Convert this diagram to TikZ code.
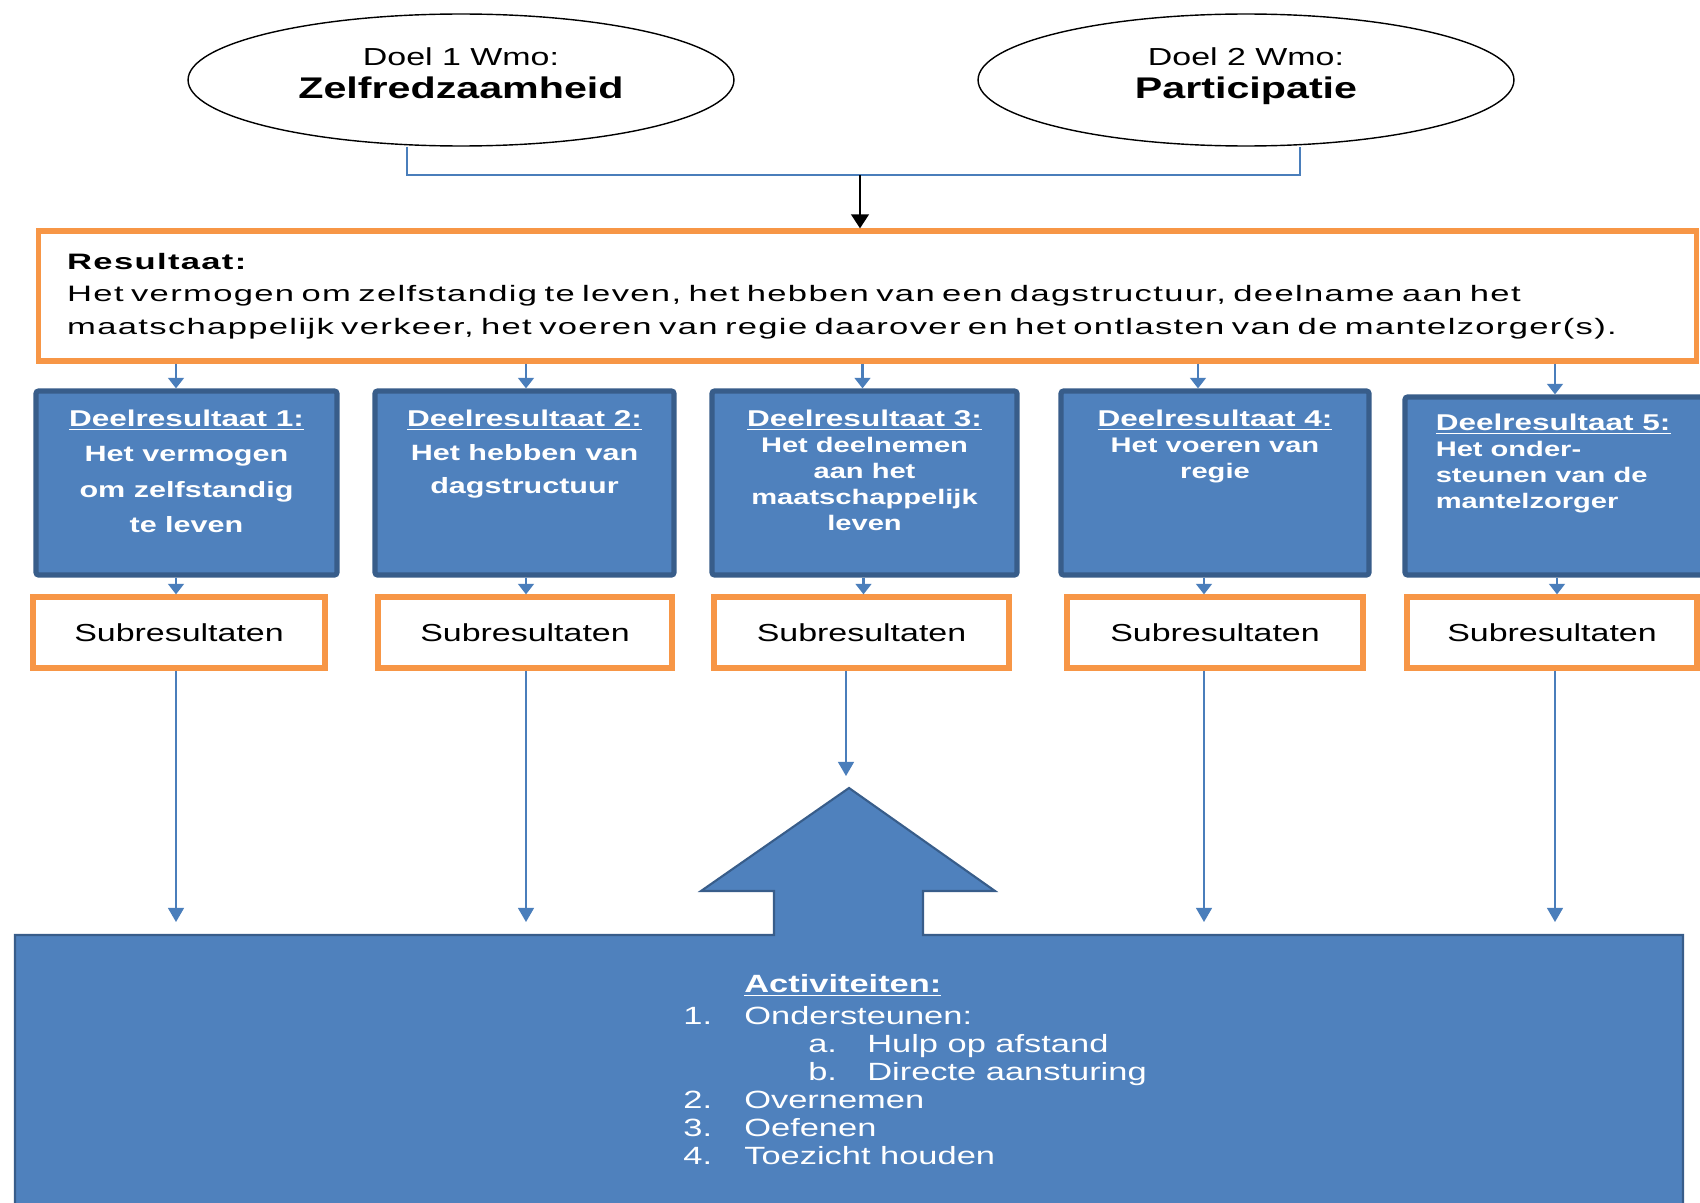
\documentclass[tikz,border=0pt]{standalone}
\usepackage{fontspec}
\setmainfont{Liberation Sans}[FakeStretch=1.38]
\newfontfamily\resfont{Liberation Sans}[FakeStretch=1.55, LetterSpace=6]
\usepackage{xcolor}
\usepackage{tikz}
\usetikzlibrary{shapes,arrows,arrows.meta,positioning,calc}
\definecolor{wmoorange}{HTML}{F79646}
\definecolor{wmoblue}{HTML}{4F81BD}
\definecolor{wmodark}{HTML}{385D8A}
\definecolor{wmoline}{HTML}{4A7EBB}

\begin{document}
\begin{tikzpicture}[x=0.02cm, y=-0.02cm,
    doel/.style={ellipse, draw=black, line width=0.8pt, fill=white, align=center, minimum height=2.64cm, text depth=0.28cm, font=\fontsize{14}{19}\selectfont},
    resbox/.style={rectangle, draw=wmoorange, line width=3pt, fill=white, align=left, text width=32.02cm, inner xsep=0.58cm, minimum height=2.6cm, font=\resfont\fontsize{12.7}{18.5}\selectfont},
    deelbox/.style={rectangle, draw=wmodark, line width=3pt, fill=wmoblue, rounded corners=1.5pt, minimum height=3.68cm},
    deeltxt/.style={text=white, align=center, inner sep=0pt},
    subbox/.style={rectangle, draw=wmoorange, line width=3pt, fill=white, minimum height=1.42cm, font=\fontsize{14}{16}\selectfont},
    actshape/.style={fill=wmoblue, draw=wmodark, line width=1.2pt},
    link/.style={draw=wmoline, line width=1.2pt, -{Triangle[width=9pt,length=6pt]}},
    longlink/.style={draw=wmoline, line width=1pt, -{Triangle[width=9pt,length=8pt]}},
]
    \useasboundingbox (0,0) rectangle (1700,1203);
    \fill[white] (0,0) rectangle (1700,1203);
    \clip (0,0) rectangle (1700,1203);

    % doelen
    \node[doel, minimum width=10.92cm] (doel1) at (461,80) {Doel 1 Wmo:\\{\bfseries\fontsize{17}{20}\selectfont Zelfredzaamheid}};
    \node[doel, minimum width=10.72cm] (doel2) at (1246,80) {Doel 2 Wmo:\\{\bfseries\fontsize{17}{20}\selectfont Participatie}};
    \coordinate (join) at (860,175);
    \draw[wmoline, line width=0.8pt] ([xshift=-1.08cm]doel1.south) |- (join) -| ([xshift=1.08cm]doel2.south);

    % resultaat
    \node[resbox] (res) at (867.5,296) {\textbf{Resultaat:}\\
        Het vermogen om zelfstandig te leven, het hebben van een dagstructuur, deelname aan het\\
        maatschappelijk verkeer, het voeren van regie daarover en het ontlasten van de mantelzorger(s).};
    \draw[-{Triangle[width=10pt,length=8pt]}, line width=1.5pt] (join) -- (join |- res.north);

    % deelresultaten
    \node[deelbox, minimum width=6.02cm] (deel1) at (186.5,483) {};
    \node[deelbox, minimum width=5.98cm] (deel2) at (524.5,483) {};
    \node[deelbox, minimum width=6.1cm] (deel3) at (864.5,483) {};
    \node[deelbox, minimum width=6.16cm] (deel4) at (1215,483) {};
    \node[deelbox, minimum width=6.3cm, minimum height=3.56cm] (deel5) at (1562.5,486) {};

    \node[deeltxt, below=0.43cm of deel1.north, font=\bfseries\fontsize{12.6}{20}\selectfont] (deel1txt)
        {\underline{\fontsize{13}{20}\selectfont Deelresultaat 1:}\\Het vermogen\\om zelfstandig\\te leven};
    \node[deeltxt, below=0.43cm of deel2.north, font=\bfseries\fontsize{12.6}{19}\selectfont] (deel2txt)
        {\underline{\fontsize{13}{19}\selectfont Deelresultaat 2:}\\Het hebben van\\dagstructuur};
    \node[deeltxt, below=0.43cm of deel3.north, font=\bfseries\fontsize{12}{14.8}\selectfont] (deel3txt)
        {\underline{\fontsize{13}{14.8}\selectfont Deelresultaat 3:}\\Het deelnemen\\aan het\\maatschappelijk\\leven};
    \node[deeltxt, below=0.43cm of deel4.north, font=\bfseries\fontsize{12}{14.8}\selectfont] (deel4txt)
        {\underline{\fontsize{13}{14.8}\selectfont Deelresultaat 4:}\\Het voeren van\\regie};
    \node[deeltxt, align=left, below right=0.38cm and 0.66cm of deel5.north west, font=\bfseries\fontsize{12}{14.8}\selectfont] (deel5txt)
        {\underline{\fontsize{13}{14.8}\selectfont Deelresultaat 5:}\\Het onder-\\steunen van de\\mantelzorger};

    % subresultaten
    \node[subbox, minimum width=5.84cm] (sub1) at (179,632.5) {Subresultaten};
    \node[subbox, minimum width=5.88cm] (sub2) at (525,632.5) {Subresultaten};
    \node[subbox, minimum width=5.9cm] (sub3) at (861.5,632.5) {Subresultaten};
    \node[subbox, minimum width=5.92cm] (sub4) at (1215,632.5) {Subresultaten};
    \node[subbox, minimum width=5.8cm] (sub5) at (1552,632.5) {Subresultaten};

    \foreach \i/\da/\db in {1/-0.06cm/-0.06cm, 2/0.02cm/0.02cm, 3/0.02cm/0.04cm, 4/-0.34cm/-0.22cm, 5/0.06cm/0.1cm} {
        \draw[link] ([xshift=\da]sub\i.north |- res.south) -- ([xshift=\da]sub\i.north |- deel\i.north);
        \draw[link] ([xshift=\db]sub\i.north |- deel\i.south) -- ([xshift=\db]sub\i.north);
    }

    % activiteiten
    \draw[actshape] (15,1230) -- (15,935) -- (774,935) -- (774,891) -- (701,891) -- (849,788)
        -- (995,891) -- (923,891) -- (923,935) -- (1683,935) -- (1683,1230) -- cycle;
    \node[anchor=north west, inner sep=0pt, text=white, align=left, font=\fontsize{14.2}{16}\selectfont] (act) at (683,974)
        {\hspace*{1.22cm}\underline{\textbf{Activiteiten:}}\\[2pt]
         \makebox[1.22cm][l]{1.}Ondersteunen:\\
         \hspace*{2.5cm}\makebox[1.18cm][l]{a.}Hulp op afstand\\
         \hspace*{2.5cm}\makebox[1.18cm][l]{b.}Directe aansturing\\
         \makebox[1.22cm][l]{2.}Overnemen\\
         \makebox[1.22cm][l]{3.}Oefenen\\
         \makebox[1.22cm][l]{4.}Toezicht houden};

    \coordinate (actin) at (0,922);
    \coordinate (tipin) at (846,776);
    \foreach \i/\dc in {1/-0.06cm, 2/0.02cm, 4/-0.22cm, 5/0.06cm}
        \draw[longlink] ([xshift=\dc]sub\i.south) -- ([xshift=\dc]sub\i.south |- actin);
    \draw[longlink] (sub3.south -| tipin) -- (tipin);
\end{tikzpicture}
\end{document}
